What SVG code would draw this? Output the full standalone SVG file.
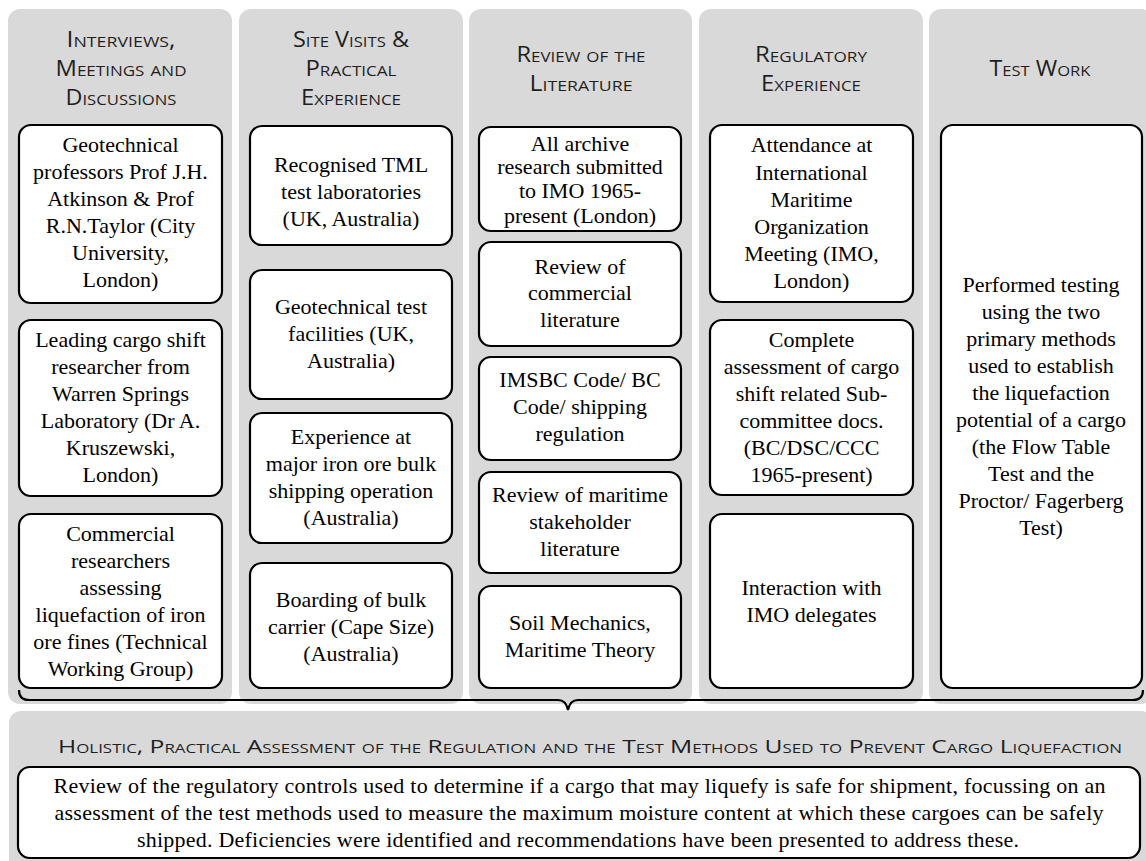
<svg xmlns="http://www.w3.org/2000/svg" width="1146" height="861" viewBox="0 0 1146 861">
<style>
.panel{fill:#d9d9d9;}
.box{fill:#ffffff;stroke:#000000;stroke-width:2.2;}
.hd{font-family:"Open Sans","Liberation Sans",sans-serif;font-size:21px;font-variant:small-caps;fill:#1f1f1f;text-anchor:middle;}
.ht{font-family:"Open Sans","Liberation Sans",sans-serif;font-size:19px;font-variant:small-caps;fill:#1f1f1f;text-anchor:middle;}
.tx{font-family:"Liberation Serif","Times New Roman",serif;font-size:22px;fill:#000000;text-anchor:middle;}
.brace{fill:none;stroke:#000000;stroke-width:2.2;}
</style>
<rect width="1146" height="861" fill="#ffffff"/>

<g id="col1">
<rect class="panel" x="8" y="9" width="224" height="695" rx="12"/>
<text class="hd" x="121" y="47" textLength="109" lengthAdjust="spacingAndGlyphs">Interviews,</text>
<text class="hd" x="121" y="76" textLength="131" lengthAdjust="spacingAndGlyphs">Meetings and</text>
<text class="hd" x="121" y="105" textLength="111" lengthAdjust="spacingAndGlyphs">Discussions</text>
</g>
<g id="col2">
<rect class="panel" x="239" y="9" width="224" height="695" rx="12"/>
<text class="hd" x="351" y="47" textLength="116" lengthAdjust="spacingAndGlyphs">Site Visits &amp;</text>
<text class="hd" x="351" y="76" textLength="91" lengthAdjust="spacingAndGlyphs">Practical</text>
<text class="hd" x="351" y="105" textLength="100" lengthAdjust="spacingAndGlyphs">Experience</text>
</g>
<g id="col3">
<rect class="panel" x="469" y="9" width="223" height="695" rx="12"/>
<text class="hd" x="581" y="62" textLength="129" lengthAdjust="spacingAndGlyphs">Review of the</text>
<text class="hd" x="581" y="91" textLength="103" lengthAdjust="spacingAndGlyphs">Literature</text>
</g>
<g id="col4">
<rect class="panel" x="699" y="9" width="224" height="695" rx="12"/>
<text class="hd" x="811" y="62" textLength="112" lengthAdjust="spacingAndGlyphs">Regulatory</text>
<text class="hd" x="811" y="91" textLength="100" lengthAdjust="spacingAndGlyphs">Experience</text>
</g>
<g id="col5">
<rect class="panel" x="929" y="9" width="224" height="695" rx="12"/>
<text class="hd" x="1040" y="76" textLength="101" lengthAdjust="spacingAndGlyphs">Test Work</text>
</g>

<g id="n1a">
<rect class="box" x="19" y="125" width="203" height="178" rx="12"/>
<text class="tx" x="120.5" y="152">Geotechnical</text>
<text class="tx" x="120.5" y="179">professors Prof J.H.</text>
<text class="tx" x="120.5" y="206">Atkinson &amp; Prof</text>
<text class="tx" x="120.5" y="233">R.N.Taylor (City</text>
<text class="tx" x="120.5" y="260">University,</text>
<text class="tx" x="120.5" y="287">London)</text>
</g>
<g id="n1b">
<rect class="box" x="19" y="320" width="203" height="176" rx="12"/>
<text class="tx" x="120.5" y="347">Leading cargo shift</text>
<text class="tx" x="120.5" y="374">researcher from</text>
<text class="tx" x="120.5" y="401">Warren Springs</text>
<text class="tx" x="120.5" y="428">Laboratory (Dr A.</text>
<text class="tx" x="120.5" y="455">Kruszewski,</text>
<text class="tx" x="120.5" y="482">London)</text>
</g>
<g id="n1c">
<rect class="box" x="19" y="514" width="203" height="174" rx="12"/>
<text class="tx" x="120.5" y="541">Commercial</text>
<text class="tx" x="120.5" y="568">researchers</text>
<text class="tx" x="120.5" y="595">assessing</text>
<text class="tx" x="120.5" y="622">liquefaction of iron</text>
<text class="tx" x="120.5" y="649">ore fines (Technical</text>
<text class="tx" x="120.5" y="676">Working Group)</text>
</g>

<g id="n2a">
<rect class="box" x="250" y="126" width="202" height="119" rx="12"/>
<text class="tx" x="351" y="172">Recognised TML</text>
<text class="tx" x="351" y="199">test laboratories</text>
<text class="tx" x="351" y="226">(UK, Australia)</text>
</g>
<g id="n2b">
<rect class="box" x="250" y="270" width="202" height="129" rx="12"/>
<text class="tx" x="351" y="314">Geotechnical test</text>
<text class="tx" x="351" y="341">facilities (UK,</text>
<text class="tx" x="351" y="368">Australia)</text>
</g>
<g id="n2c">
<rect class="box" x="250" y="413" width="202" height="130" rx="12"/>
<text class="tx" x="351" y="444">Experience at</text>
<text class="tx" x="351" y="471">major iron ore bulk</text>
<text class="tx" x="351" y="498">shipping operation</text>
<text class="tx" x="351" y="525">(Australia)</text>
</g>
<g id="n2d">
<rect class="box" x="250" y="563" width="202" height="125" rx="12"/>
<text class="tx" x="351" y="607">Boarding of bulk</text>
<text class="tx" x="351" y="634">carrier (Cape Size)</text>
<text class="tx" x="351" y="661">(Australia)</text>
</g>

<g id="n3a">
<rect class="box" x="479" y="127" width="202" height="104" rx="12"/>
<text class="tx" x="580" y="151">All archive</text>
<text class="tx" x="580" y="174">research submitted</text>
<text class="tx" x="580" y="198">to IMO 1965-</text>
<text class="tx" x="580" y="223">present (London)</text>
</g>
<g id="n3b">
<rect class="box" x="479" y="242" width="202" height="104" rx="12"/>
<text class="tx" x="580" y="274">Review of</text>
<text class="tx" x="580" y="300">commercial</text>
<text class="tx" x="580" y="327">literature</text>
</g>
<g id="n3c">
<rect class="box" x="479" y="357" width="202" height="103" rx="12"/>
<text class="tx" x="580" y="387">IMSBC Code/ BC</text>
<text class="tx" x="580" y="414">Code/ shipping</text>
<text class="tx" x="580" y="441">regulation</text>
</g>
<g id="n3d">
<rect class="box" x="479" y="472" width="202" height="101" rx="12"/>
<text class="tx" x="580" y="502">Review of maritime</text>
<text class="tx" x="580" y="529">stakeholder</text>
<text class="tx" x="580" y="556">literature</text>
</g>
<g id="n3e">
<rect class="box" x="479" y="586" width="202" height="102" rx="12"/>
<text class="tx" x="580" y="630">Soil Mechanics,</text>
<text class="tx" x="580" y="657">Maritime Theory</text>
</g>

<g id="n4a">
<rect class="box" x="710" y="125" width="203" height="177" rx="12"/>
<text class="tx" x="811.5" y="152">Attendance at</text>
<text class="tx" x="811.5" y="180">International</text>
<text class="tx" x="811.5" y="207">Maritime</text>
<text class="tx" x="811.5" y="234">Organization</text>
<text class="tx" x="811.5" y="261">Meeting (IMO,</text>
<text class="tx" x="811.5" y="288">London)</text>
</g>
<g id="n4b">
<rect class="box" x="710" y="320" width="203" height="175" rx="12"/>
<text class="tx" x="811.5" y="347">Complete</text>
<text class="tx" x="811.5" y="374">assessment of cargo</text>
<text class="tx" x="811.5" y="401">shift related Sub-</text>
<text class="tx" x="811.5" y="428">committee docs.</text>
<text class="tx" x="811.5" y="455">(BC/DSC/CCC</text>
<text class="tx" x="811.5" y="482">1965-present)</text>
</g>
<g id="n4c">
<rect class="box" x="710" y="514" width="203" height="174" rx="12"/>
<text class="tx" x="811.5" y="595">Interaction with</text>
<text class="tx" x="811.5" y="622">IMO delegates</text>
</g>

<g id="n5a">
<rect class="box" x="941" y="125" width="201" height="563" rx="12"/>
<text class="tx" x="1041" y="292">Performed testing</text>
<text class="tx" x="1041" y="319">using the two</text>
<text class="tx" x="1041" y="346">primary methods</text>
<text class="tx" x="1041" y="373">used to establish</text>
<text class="tx" x="1041" y="400">the liquefaction</text>
<text class="tx" x="1041" y="427">potential of a cargo</text>
<text class="tx" x="1041" y="454">(the Flow Table</text>
<text class="tx" x="1041" y="481">Test and the</text>
<text class="tx" x="1041" y="508">Proctor/ Fagerberg</text>
<text class="tx" x="1041" y="535">Test)</text>
</g>

<g id="connectors">
<path class="brace" d="M19,690 Q19,700 29,700 L558,700 Q566,700 568,710 Q570,700 578,700 L1133,700 Q1143,700 1143,690"/>
</g>

<g id="outcome">
<rect class="panel" x="9" y="711" width="1144" height="170" rx="12"/>
<text class="ht" x="590" y="753" textLength="1064" lengthAdjust="spacingAndGlyphs">Holistic, Practical Assessment of the Regulation and the Test Methods Used to Prevent Cargo Liquefaction</text>
<rect class="box" x="18" y="767" width="1122" height="91" rx="12"/>
<text class="tx" x="579.5" y="793" textLength="1052" lengthAdjust="spacing">Review of the regulatory controls used to determine if a cargo that may liquefy is safe for shipment, focussing on an</text>
<text class="tx" x="579" y="820" textLength="1049" lengthAdjust="spacing">assessment of the test methods used to measure the maximum moisture content at which these cargoes can be safely</text>
<text class="tx" x="578" y="847" textLength="882" lengthAdjust="spacing">shipped. Deficiencies were identified and recommendations have been presented to address these.</text>
</g>
</svg>
